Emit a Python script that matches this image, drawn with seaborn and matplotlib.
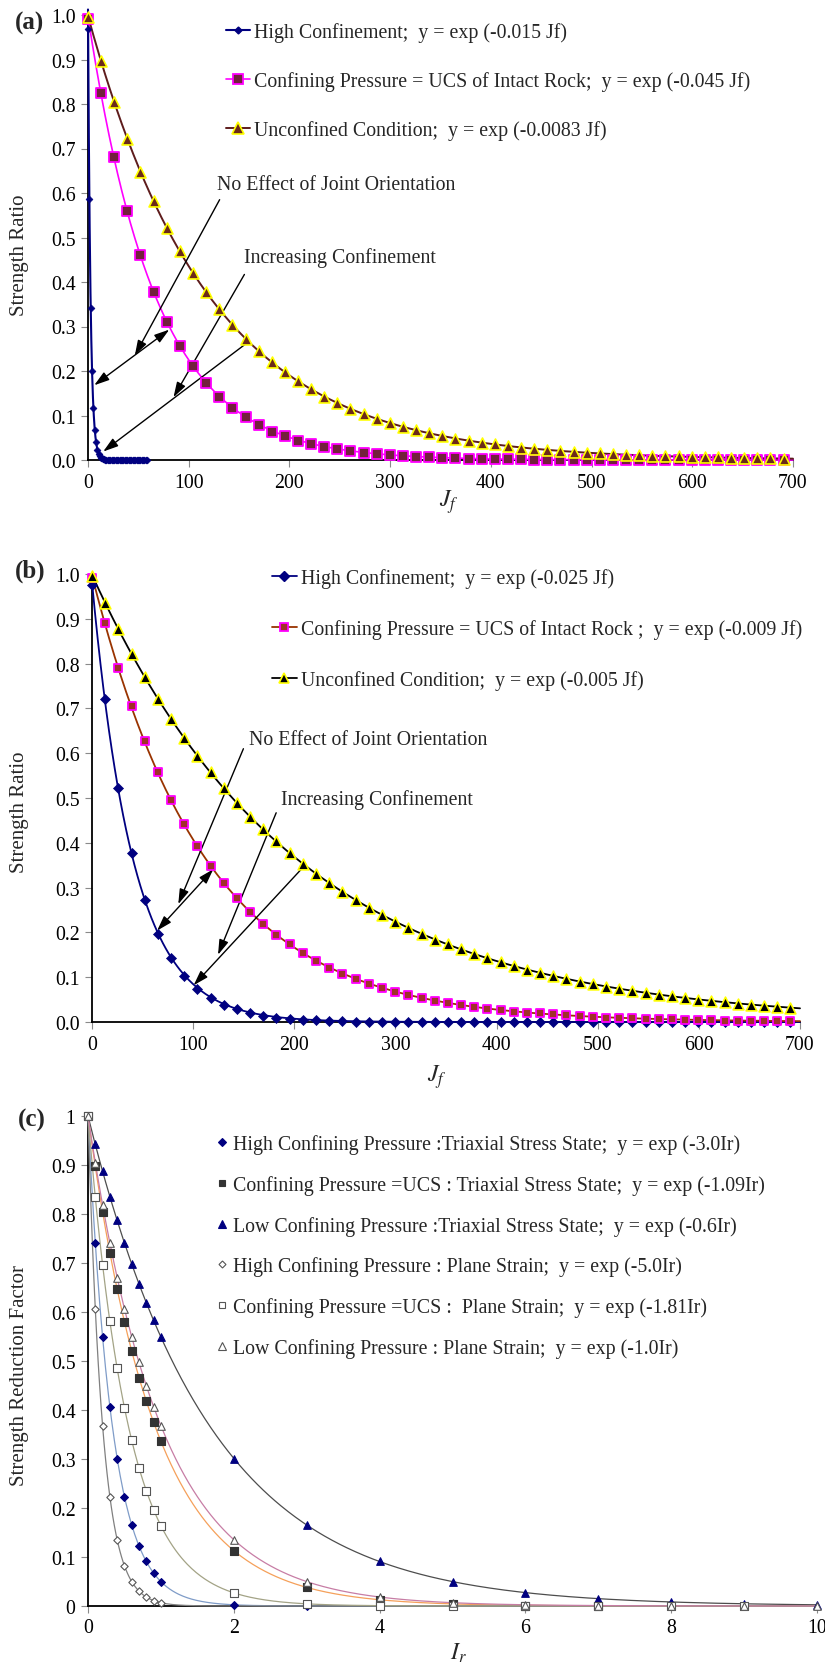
import numpy as np
import matplotlib
matplotlib.use("Agg")
import matplotlib.pyplot as plt
import seaborn as sns
from matplotlib.lines import Line2D

# ---------------- data ----------------
JF = [0.0, 13.0, 26.1, 39.1, 52.1, 65.2, 78.2, 91.2, 104.2, 117.3,
      130.3, 143.3, 156.4, 169.4, 182.4, 195.5, 208.5, 221.5, 234.5, 247.6,
      260.6, 273.6, 286.7, 299.7, 312.7, 325.8, 338.8, 351.8, 364.8, 377.9,
      390.9, 403.9, 417.0, 430.0, 443.0, 456.1, 469.1, 482.1, 495.1, 508.2,
      521.2, 534.2, 547.3, 560.3, 573.3, 586.4, 599.4, 612.4, 625.4, 638.5,
      651.5, 664.5, 677.6, 690.6]

A_HIGH_X = [0.1, 1.4, 2.7, 4.0, 5.3, 6.6, 7.9, 9.2, 10.5, 11.8,
            13.1, 14.4, 15.7, 17.0, 18.3, 19.6, 20.9, 22.2, 23.5, 24.8,
            26.1, 27.4, 28.7, 30.0, 31.3, 32.6, 33.9, 35.2, 36.5, 37.8,
            39.1, 40.4, 41.7, 43.0, 44.3, 45.6, 46.9, 48.2, 49.5, 50.8,
            52.1, 53.4, 54.7, 56.0, 57.3, 58.6]
A_HIGH_Y = [0.968, 0.586, 0.342, 0.200, 0.116, 0.067, 0.040, 0.023, 0.013, 0.008,
            0.005, 0.003, 0.002, 0.001, 0.001, 0.0, 0.0, 0.0, 0.0, 0.0,
            0.0, 0.0, 0.0, 0.0, 0.0, 0.0, 0.0, 0.0, 0.0, 0.0,
            0.0, 0.0, 0.0, 0.0, 0.0, 0.0, 0.0, 0.0, 0.0, 0.0,
            0.0, 0.0, 0.0, 0.0, 0.0, 0.0]
A_UCS_Y = [0.990, 0.825, 0.680, 0.559, 0.460, 0.378, 0.311, 0.256, 0.211, 0.173,
           0.142, 0.117, 0.096, 0.079, 0.064, 0.053, 0.043, 0.036, 0.029, 0.024,
           0.020, 0.016, 0.013, 0.011, 0.009, 0.007, 0.006, 0.005, 0.004, 0.003,
           0.003, 0.002, 0.002, 0.002, 0.001, 0.001, 0.001, 0.001, 0.001, 0.001,
           0.0, 0.0, 0.0, 0.0, 0.0, 0.0, 0.0, 0.0, 0.0, 0.0,
           0.0, 0.0, 0.0, 0.0]
A_UNC_Y = [0.995, 0.897, 0.805, 0.722, 0.648, 0.582, 0.522, 0.469, 0.421, 0.377,
           0.339, 0.304, 0.273, 0.245, 0.220, 0.197, 0.177, 0.159, 0.142, 0.128,
           0.115, 0.103, 0.092, 0.083, 0.074, 0.067, 0.060, 0.054, 0.048, 0.043,
           0.039, 0.035, 0.031, 0.028, 0.025, 0.023, 0.020, 0.018, 0.016, 0.015,
           0.013, 0.012, 0.011, 0.010, 0.009, 0.008, 0.007, 0.006, 0.006, 0.005,
           0.005, 0.004, 0.004, 0.003]

B_HIGH_Y = [0.975, 0.722, 0.522, 0.377, 0.272, 0.197, 0.142, 0.102, 0.074, 0.053,
            0.038, 0.028, 0.020, 0.014, 0.010, 0.007, 0.005, 0.004, 0.003, 0.002,
            0.001, 0.001, 0.001, 0.0, 0.0, 0.0, 0.0, 0.0, 0.0, 0.0,
            0.0, 0.0, 0.0, 0.0, 0.0, 0.0, 0.0, 0.0, 0.0, 0.0,
            0.0, 0.0, 0.0, 0.0, 0.0, 0.0, 0.0, 0.0, 0.0, 0.0,
            0.0, 0.0, 0.0, 0.0]
B_UCS_Y = [0.990, 0.890, 0.790, 0.705, 0.627, 0.557, 0.496, 0.441, 0.392, 0.349,
           0.310, 0.276, 0.245, 0.218, 0.194, 0.173, 0.153, 0.137, 0.121, 0.108,
           0.096, 0.085, 0.076, 0.068, 0.060, 0.053, 0.047, 0.042, 0.038, 0.033,
           0.030, 0.026, 0.023, 0.021, 0.019, 0.017, 0.015, 0.013, 0.012, 0.010,
           0.009, 0.008, 0.007, 0.006, 0.006, 0.005, 0.004, 0.004, 0.003, 0.003,
           0.003, 0.002, 0.002, 0.002]
B_UNC_Y = [0.995, 0.936, 0.877, 0.822, 0.771, 0.722, 0.677, 0.634, 0.594, 0.557,
           0.522, 0.489, 0.458, 0.430, 0.403, 0.377, 0.353, 0.331, 0.310, 0.291,
           0.272, 0.255, 0.239, 0.224, 0.210, 0.197, 0.184, 0.173, 0.162, 0.152,
           0.142, 0.133, 0.125, 0.117, 0.110, 0.103, 0.096, 0.090, 0.085, 0.079,
           0.074, 0.070, 0.065, 0.061, 0.057, 0.054, 0.050, 0.047, 0.044, 0.041,
           0.039, 0.036, 0.034, 0.032]

IR_FINE = [0.0, 0.1, 0.2, 0.3, 0.4, 0.5, 0.6, 0.7, 0.8, 0.9, 1.0]
C_HT_X = IR_FINE + [2, 3, 4]
C_HT_Y = [1.0, 0.741, 0.549, 0.407, 0.301, 0.223, 0.165, 0.122, 0.091, 0.067, 0.050,
          0.002, 0.0, 0.0]
C_UT_X = IR_FINE + [2, 3, 4, 5, 6, 7]
C_UT_Y = [1.0, 0.897, 0.804, 0.721, 0.647, 0.580, 0.520, 0.466, 0.418, 0.375, 0.336,
          0.113, 0.038, 0.013, 0.004, 0.001, 0.0]
C_LT_X = IR_FINE + [2, 3, 4, 5, 6, 7, 8, 9, 10]
C_LT_Y = [1.0, 0.942, 0.887, 0.835, 0.787, 0.741, 0.698, 0.657, 0.619, 0.583, 0.549,
          0.301, 0.165, 0.091, 0.050, 0.027, 0.015, 0.008, 0.005, 0.002]
C_HP_X = IR_FINE
C_HP_Y = [1.0, 0.607, 0.368, 0.223, 0.135, 0.082, 0.050, 0.030, 0.018, 0.011, 0.007]
C_UP_X = IR_FINE + [2, 3, 4, 5, 6, 7, 8, 9]
C_UP_Y = [1.0, 0.834, 0.696, 0.581, 0.485, 0.405, 0.338, 0.282, 0.235, 0.196, 0.164,
          0.027, 0.005, 0.001, 0.0, 0.0, 0.0, 0.0, 0.0]
C_LP_X = IR_FINE + [2, 3, 4, 5, 6, 7, 8, 9, 10]
C_LP_Y = [1.0, 0.905, 0.819, 0.741, 0.670, 0.607, 0.549, 0.497, 0.449, 0.407, 0.368,
          0.135, 0.050, 0.018, 0.007, 0.002, 0.001, 0.0, 0.0, 0.0]

A_LABELS = ["High Confinement;  y = exp (-0.015 Jf)",
            "Confining Pressure = UCS of Intact Rock;  y = exp (-0.045 Jf)",
            "Unconfined Condition;  y = exp (-0.0083 Jf)"]
B_LABELS = ["High Confinement;  y = exp (-0.025 Jf)",
            "Confining Pressure = UCS of Intact Rock ;  y = exp (-0.009 Jf)",
            "Unconfined Condition;  y = exp (-0.005 Jf)"]
C_LABELS = ["High Confining Pressure :Triaxial Stress State;  y = exp (-3.0Ir)",
            "Confining Pressure =UCS : Triaxial Stress State;  y = exp (-1.09Ir)",
            "Low Confining Pressure :Triaxial Stress State;  y = exp (-0.6Ir)",
            "High Confining Pressure : Plane Strain;  y = exp (-5.0Ir)",
            "Confining Pressure =UCS :  Plane Strain;  y = exp (-1.81Ir)",
            "Low Confining Pressure : Plane Strain;  y = exp (-1.0Ir)"]

JF_TICKS = [0, 100, 200, 300, 400, 500, 600, 700]
R_TICKS = [0.0, 0.1, 0.2, 0.3, 0.4, 0.5, 0.6, 0.7, 0.8, 0.9, 1.0]
IR_TICKS = [0, 2, 4, 6, 8, 10]

# ---------------- style ----------------
sns.set_theme(style="white")
plt.rcParams['font.family'] = ['Liberation Serif', 'DejaVu Serif']
plt.rcParams['mathtext.fontset'] = 'stix'

FS = 14.3
W, H = 825, 1665


def trend(x, y, x0, x1, n=500):
    x = np.asarray(x, float)
    y = np.asarray(y, float)
    m = y > 0
    b, a = np.polyfit(x[m], np.log(y[m]), 1, w=y[m])
    g = np.linspace(x0, x1, n)
    return g, np.exp(a + b * g)


def style(ax, xlim, xticks, xlabels, yticks, ylabels):
    ax.set_xlim(*xlim)
    ax.set_ylim(0, 1)
    ax.set_xticks(xticks)
    ax.set_xticklabels(xlabels)
    ax.set_yticks(yticks)
    ax.set_yticklabels(ylabels)
    ax.grid(False)
    for s in ['top', 'right']:
        ax.spines[s].set_visible(False)
    for s in ['left', 'bottom']:
        ax.spines[s].set_color('black')
        ax.spines[s].set_linewidth(1.3)
    ax.tick_params(axis='both', which='major', bottom=True, left=True,
                   direction='out', length=5, width=0.8, color='#8a8a8a',
                   labelsize=FS, pad=4, labelcolor='black')
    ax.set_xlabel('')
    ax.set_ylabel('')


def scatter(ax, x, y, **kw):
    sns.scatterplot(x=x, y=y, ax=ax, legend=False, zorder=4, **kw)
    ax.collections[-1].set_clip_on(False)


def curve(ax, x, y, x0, x1, color, lw):
    g, f = trend(x, y, x0, x1)
    sns.lineplot(x=g, y=f, ax=ax, color=color, lw=lw, legend=False, zorder=3)
    ax.lines[-1].set_clip_on(False)


def ftxt(x, y, s, **kw):
    fig.text(x / W, 1 - y / H, s, **kw)


fig = plt.figure(figsize=(8.25, 16.65), dpi=100)
axA = fig.add_axes([88 / W, 1 - 461 / H, 705 / W, 445 / H])
axB = fig.add_axes([92 / W, 1 - 1023 / H, 708 / W, 448 / H])
axC = fig.add_axes([88 / W, 1 - 1607 / H, 729 / W, 490 / H])

ylab_r = ["%.1f" % v for v in R_TICKS]
ylab_c = ["0" if v == 0 else ("1" if v == 1 else "%.1f" % v) for v in R_TICKS]

arrow = dict(arrowstyle='-|>,head_length=0.7,head_width=0.22', color='black',
             lw=1.0, mutation_scale=13, shrinkA=0, shrinkB=0)
arrow2 = dict(arrow, arrowstyle='<|-|>,head_length=0.7,head_width=0.22')

# ---------------- panel (a) ----------------
A_COL = dict(high='#000080', ucs_line='#FF00FF', ucs_face='#73203C',
             unc_line='#5E1C1C', unc_face='#6B2A1A', yellow='#FFFF00')
curve(axA, A_HIGH_X, A_HIGH_Y, 0, 58.6, A_COL['high'], 1.5)
curve(axA, JF, A_UCS_Y, 0, 700, A_COL['ucs_line'], 1.2)
curve(axA, JF, A_UNC_Y, 0, 700, A_COL['unc_line'], 1.4)
scatter(axA, A_HIGH_X, A_HIGH_Y, marker='D', s=12, color=A_COL['high'],
        edgecolor=A_COL['high'], linewidth=0.5)
scatter(axA, JF, A_UCS_Y, marker='s', s=42, color=A_COL['ucs_face'],
        edgecolor=A_COL['ucs_line'], linewidth=1.3)
scatter(axA, JF, A_UNC_Y, marker='^', s=62, color=A_COL['unc_face'],
        edgecolor=A_COL['yellow'], linewidth=1.2)
style(axA, (0, 700), JF_TICKS, [str(v) for v in JF_TICKS], R_TICKS, ylab_r)
hA = [Line2D([0], [0], color=A_COL['high'], lw=1.5, marker='D', markersize=3.5,
             markerfacecolor=A_COL['high'], markeredgecolor=A_COL['high']),
      Line2D([0], [0], color=A_COL['ucs_line'], lw=1.2, marker='s', markersize=6.5,
             markerfacecolor=A_COL['ucs_face'], markeredgecolor=A_COL['ucs_line'],
             markeredgewidth=1.3),
      Line2D([0], [0], color=A_COL['unc_line'], lw=1.4, marker='^', markersize=8,
             markerfacecolor=A_COL['unc_face'], markeredgecolor=A_COL['yellow'],
             markeredgewidth=1.2)]
axA.legend(handles=hA, labels=A_LABELS, loc='upper left',
           bbox_to_anchor=(0.1957, 0.984), frameon=False, fontsize=FS,
           handlelength=1.2, handletextpad=0.2, labelspacing=1.47,
           borderpad=0, borderaxespad=0)
axA.text(128, 0.62, "No Effect of Joint Orientation", fontsize=FS, va='center', ha='left')
axA.text(155, 0.456, "Increasing Confinement", fontsize=FS, va='center', ha='left')
axA.annotate('', xy=(46.5, 0.235), xytext=(130.7, 0.585), arrowprops=arrow)
axA.annotate('', xy=(6.2, 0.168), xytext=(80.7, 0.293), arrowprops=arrow2)
axA.annotate('', xy=(84.9, 0.141), xytext=(155.3, 0.417), arrowprops=arrow)
axA.annotate('', xy=(15.1, 0.019), xytext=(158.4, 0.264), arrowprops=arrow)

# ---------------- panel (b) ----------------
B_COL = dict(high='#000080', ucs_line='#993300', ucs_face='#A0302A',
             ucs_edge='#FF00FF', unc='#000000', yellow='#FFFF00')
curve(axB, JF, B_HIGH_Y, 0, 700, B_COL['high'], 1.3)
curve(axB, JF, B_UCS_Y, 0, 700, B_COL['ucs_line'], 1.3)
curve(axB, JF, B_UNC_Y, 0, 700, B_COL['unc'], 1.3)
scatter(axB, JF, B_HIGH_Y, marker='D', s=26, color=B_COL['high'],
        edgecolor=B_COL['high'], linewidth=0.5)
scatter(axB, JF, B_UCS_Y, marker='s', s=34, color=B_COL['ucs_face'],
        edgecolor=B_COL['ucs_edge'], linewidth=1.3)
scatter(axB, JF, B_UNC_Y, marker='^', s=60, color=B_COL['unc'],
        edgecolor=B_COL['yellow'], linewidth=1.2)
style(axB, (0, 700), JF_TICKS, [str(v) for v in JF_TICKS], R_TICKS, ylab_r)
hB = [Line2D([0], [0], color=B_COL['high'], lw=1.3, marker='D', markersize=5,
             markerfacecolor=B_COL['high'], markeredgecolor=B_COL['high']),
      Line2D([0], [0], color=B_COL['ucs_line'], lw=1.3, marker='s', markersize=5.8,
             markerfacecolor=B_COL['ucs_face'], markeredgecolor=B_COL['ucs_edge'],
             markeredgewidth=1.3),
      Line2D([0], [0], color=B_COL['unc'], lw=1.3, marker='^', markersize=7.8,
             markerfacecolor=B_COL['unc'], markeredgecolor=B_COL['yellow'],
             markeredgewidth=1.2)]
axB.legend(handles=hB, labels=B_LABELS, loc='upper left',
           bbox_to_anchor=(0.254, 1.0135), frameon=False, fontsize=FS,
           handlelength=1.25, handletextpad=0.2, labelspacing=1.57,
           borderpad=0, borderaxespad=0)
axB.text(154.9, 0.630, "No Effect of Joint Orientation", fontsize=FS, va='center', ha='left')
axB.text(187.3, 0.497, "Increasing Confinement", fontsize=FS, va='center', ha='left')
axB.annotate('', xy=(85.3, 0.263), xytext=(149.7, 0.61), arrowprops=arrow)
axB.annotate('', xy=(64.4, 0.204), xytext=(119.9, 0.341), arrowprops=arrow2)
axB.annotate('', xy=(124.6, 0.150), xytext=(182.1, 0.467), arrowprops=arrow)
axB.annotate('', xy=(100.5, 0.082), xytext=(211.4, 0.352), arrowprops=arrow)

# ---------------- panel (c) ----------------
C_SERIES = [
    (C_HT_X, C_HT_Y, 'D', '#000080', '#000080', '#7F9CC8', 16),
    (C_UT_X, C_UT_Y, 's', '#333333', '#333333', '#F5A05A', 26),
    (C_LT_X, C_LT_Y, '^', '#000080', '#000080', '#4D4D4D', 30),
    (C_HP_X, C_HP_Y, 'D', 'white', '#555555', '#808080', 14),
    (C_UP_X, C_UP_Y, 's', 'white', '#555555', '#A3A386', 26),
    (C_LP_X, C_LP_Y, '^', 'white', '#555555', '#C77DA5', 30),
]
for x, y, m, face, edge, lc, s in C_SERIES:
    curve(axC, x, y, 0, 10, lc, 0.9)
for x, y, m, face, edge, lc, s in C_SERIES:
    scatter(axC, x, y, marker=m, s=s, color=face, edgecolor=edge, linewidth=0.8)
style(axC, (0, 10), IR_TICKS, [str(v) for v in IR_TICKS], R_TICKS, ylab_c)
hC = [Line2D([0], [0], lw=0, marker=m, markersize=np.sqrt(s) * 0.95,
             markerfacecolor=face, markeredgecolor=edge, markeredgewidth=0.8)
      for x, y, m, face, edge, lc, s in C_SERIES]
axC.legend(handles=hC, labels=C_LABELS, loc='upper left',
           bbox_to_anchor=(0.177, 0.963), frameon=False, fontsize=FS,
           handlelength=0.5, handletextpad=0.3, labelspacing=1.05,
           borderpad=0, borderaxespad=0)

# ---------------- figure texts ----------------
ftxt(30, 23, "(a)", fontsize=18, fontweight='bold', ha='center', va='center')
ftxt(30, 571, "(b)", fontsize=18, fontweight='bold', ha='center', va='center')
ftxt(32, 1120, "(c)", fontsize=18, fontweight='bold', ha='center', va='center')
ftxt(20, 255, "Strength Ratio", fontsize=15, rotation=90, ha='center', va='center')
ftxt(20, 812, "Strength Ratio", fontsize=15, rotation=90, ha='center', va='center')
ftxt(20, 1375, "Strength Reduction Factor", fontsize=15, rotation=90, ha='center', va='center')
ftxt(449, 502, r"$J_f$", fontsize=17, ha='center', va='center')
ftxt(437, 1077, r"$J_f$", fontsize=17, ha='center', va='center')
ftxt(458, 1653, r"$I_r$", fontsize=17, ha='center', va='center')

fig.savefig("out.png", dpi=100, facecolor='white')
